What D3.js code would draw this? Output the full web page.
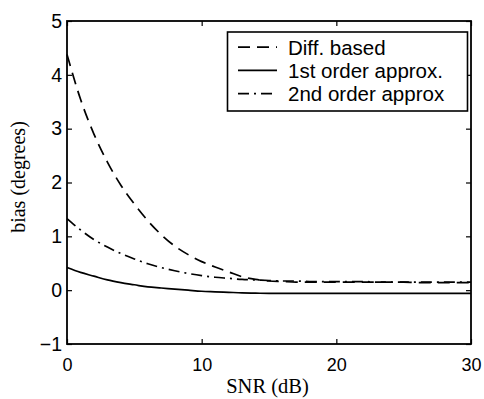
<!DOCTYPE html>
<html>
<head>
<meta charset="utf-8">
<script src="https://cdn.jsdelivr.net/npm/d3@7"></script>
<style>
  html, body { margin: 0; padding: 0; background: #fff; }
  svg { display: block; }
</style>
</head>
<body>
<svg id="chart" width="484" height="399"></svg>
<script>
// SNR grid (dB)
const snr = d3.range(0, 31);

// Bias (degrees) for each estimator
const diffBased = [4.38, 3.55, 2.90, 2.38, 1.95, 1.60, 1.29, 1.03, 0.82, 0.66,
  0.53, 0.43, 0.34, 0.25, 0.20, 0.17, 0.16, 0.15, 0.15, 0.15,
  0.15, 0.15, 0.15, 0.15, 0.15, 0.15, 0.14, 0.14, 0.14, 0.14, 0.14];
const firstOrder = [0.42, 0.33, 0.26, 0.19, 0.14, 0.10, 0.06, 0.04, 0.02, 0.00,
  -0.02, -0.03, -0.04, -0.05, -0.055, -0.06, -0.06, -0.06, -0.06, -0.06,
  -0.06, -0.06, -0.06, -0.06, -0.06, -0.06, -0.06, -0.06, -0.06, -0.06, -0.06];
const secondOrder = [1.33, 1.12, 0.94, 0.80, 0.68, 0.58, 0.49, 0.42, 0.36, 0.31,
  0.27, 0.24, 0.22, 0.20, 0.19, 0.18, 0.17, 0.17, 0.16, 0.16,
  0.16, 0.16, 0.16, 0.15, 0.15, 0.15, 0.15, 0.15, 0.15, 0.15, 0.15];

const xTicks = [0, 10, 20, 30];
const yTicks = [-1, 0, 1, 2, 3, 4, 5];

const seriesNames = ["Diff. based", "1st order approx.", "2nd order approx"];
const seriesData = [diffBased, firstOrder, secondOrder];
const seriesDash = ["12,7", null, "11,5,2,5"];

const svg = d3.select("#chart");
const plotL = 67, plotR = 471, plotT = 21, plotB = 344;

const x = d3.scaleLinear().domain([0, 30]).range([plotL, plotR]);
const y = d3.scaleLinear().domain([-1, 5]).range([plotB, plotT]);

const tickFont = "Liberation Sans, Arial, Helvetica, sans-serif";
const labelFont = "Liberation Serif, Times New Roman, serif";

// Curves
const line = d3.line().x((d, i) => x(snr[i])).y(d => y(d)).curve(d3.curveMonotoneX);
seriesData.forEach((vals, k) => {
  svg.append("path")
    .datum(vals)
    .attr("d", line)
    .attr("fill", "none")
    .attr("stroke", "#000")
    .attr("stroke-width", 1.7)
    .attr("stroke-dasharray", seriesDash[k]);
});

// Axes with inward ticks on all four sides
const tickLen = 5;
const axB = svg.append("g").attr("transform", `translate(0,${plotB})`)
  .call(d3.axisBottom(x).tickValues(xTicks).tickSizeInner(-tickLen).tickSizeOuter(0).tickPadding(14));
const axT = svg.append("g").attr("transform", `translate(0,${plotT})`)
  .call(d3.axisTop(x).tickValues(xTicks).tickSizeInner(-tickLen).tickSizeOuter(0).tickFormat(""));
const axL = svg.append("g").attr("transform", `translate(${plotL},0)`)
  .call(d3.axisLeft(y).tickValues(yTicks).tickSizeInner(-tickLen).tickSizeOuter(0).tickPadding(5)
    .tickFormat(d => d < 0 ? "\u2212" + Math.abs(d) : d));
const axR = svg.append("g").attr("transform", `translate(${plotR},0)`)
  .call(d3.axisRight(y).tickValues(yTicks).tickSizeInner(-tickLen).tickSizeOuter(0).tickFormat(""));

[axB, axT, axL, axR].forEach(g => {
  g.select(".domain").remove();
  g.selectAll(".tick line").attr("stroke", "#000").attr("stroke-width", 1.2);
  g.selectAll(".tick text").attr("fill", "#000").style("font-family", tickFont);
});
axB.selectAll(".tick text").style("font-size", "18px");
axL.selectAll(".tick text").style("font-size", "19.5px");

// Plot frame
svg.append("rect")
  .attr("x", plotL).attr("y", plotT)
  .attr("width", plotR - plotL).attr("height", plotB - plotT)
  .attr("fill", "none").attr("stroke", "#000").attr("stroke-width", 1.8);

// Axis labels
svg.append("text")
  .attr("x", 267.5).attr("y", 393)
  .attr("text-anchor", "middle")
  .style("font-family", labelFont).style("font-size", "20.5px")
  .text("SNR (dB)");
svg.append("text")
  .attr("transform", "translate(25,177) rotate(-90)")
  .attr("text-anchor", "middle")
  .style("font-family", labelFont).style("font-size", "20px")
  .text("bias (degrees)");

// Legend
const lg = svg.append("g");
lg.append("rect")
  .attr("x", 227.5).attr("y", 32).attr("width", 240).attr("height", 79)
  .attr("fill", "#fff").attr("stroke", "#000").attr("stroke-width", 1.6);
seriesNames.forEach((name, k) => {
  const base = 54.7 + k * 23.2;
  const cy = base - 7.5;
  lg.append("line")
    .attr("x1", 238).attr("x2", 277).attr("y1", cy).attr("y2", cy)
    .attr("stroke", "#000").attr("stroke-width", 1.7)
    .attr("stroke-dasharray", seriesDash[k]);
  lg.append("text")
    .attr("x", 288).attr("y", base)
    .style("font-family", tickFont).style("font-size", "20.5px")
    .text(name);
});
</script>
</body>
</html>
